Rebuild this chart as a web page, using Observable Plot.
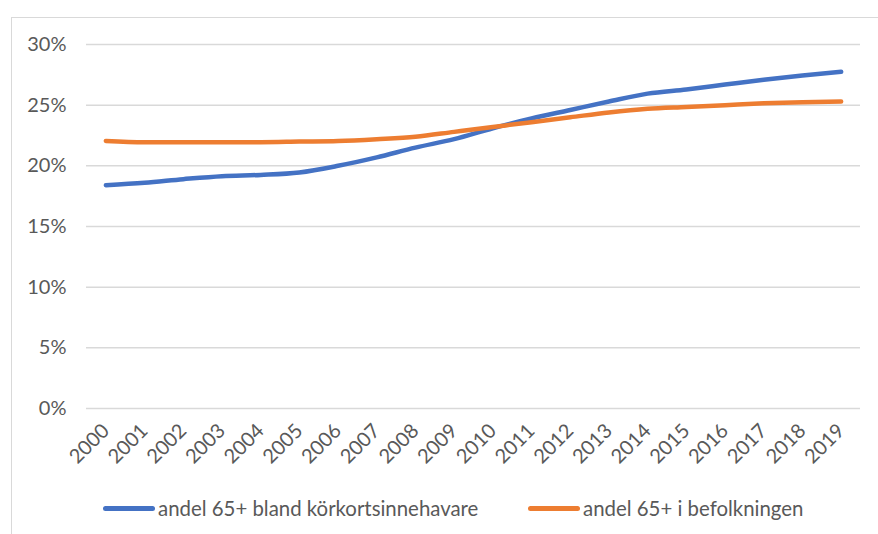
<!DOCTYPE html>
<html>
<head>
<meta charset="utf-8">
<script src="https://cdn.jsdelivr.net/npm/d3@7"></script>
<script src="https://cdn.jsdelivr.net/npm/@observablehq/plot@0.6"></script>
<style>
  html, body { margin: 0; padding: 0; background: #fff; }
  #wrap { position: relative; width: 878px; height: 534px; overflow: hidden; font-family: Lato, "Open Sans", sans-serif; }
  #frame { position: absolute; left: 11px; top: 17px; width: 1000px; height: 1000px; border: 1px solid #d9d9d9; box-sizing: border-box; }
  #chart { position: absolute; left: 0; top: 0; }
  #legend { position: absolute; left: 0; top: 492px; width: 878px; height: 32px; }
  .item { position: absolute; top: 0; height: 32px; display: flex; align-items: center; color: #595959; font-size: 20.4px; white-space: nowrap; }
  .sw { width: 52px; height: 5px; border-radius: 3px; margin-right: 3px; }
</style>
</head>
<body>
<div id="wrap">
  <div id="frame"></div>
  <div id="chart"></div>
  <div id="legend"></div>
</div>
<script>
const years = ["2000","2001","2002","2003","2004","2005","2006","2007","2008","2009","2010","2011","2012","2013","2014","2015","2016","2017","2018","2019"];
const seriesNames = ["andel 65+ bland körkortsinnehavare", "andel 65+ i befolkningen"];
const seriesColors = ["#4472C4", "#ED7D31"];
const korkort = [18.4, 18.6, 18.9, 19.15, 19.25, 19.45, 20.0, 20.7, 21.5, 22.2, 23.1, 23.9, 24.6, 25.3, 25.95, 26.3, 26.7, 27.1, 27.45, 27.75];
const befolkning = [22.05, 21.95, 21.95, 21.95, 21.95, 22.0, 22.05, 22.2, 22.4, 22.8, 23.2, 23.6, 24.0, 24.4, 24.7, 24.85, 25.0, 25.15, 25.25, 25.3];
const yTicks = [0, 5, 10, 15, 20, 25, 30];

const rows = [];
years.forEach((y, i) => {
  rows.push({year: y, value: korkort[i] / 100, series: seriesNames[0]});
  rows.push({year: y, value: befolkning[i] / 100, series: seriesNames[1]});
});

const chart = Plot.plot({
  width: 878,
  height: 492,
  marginLeft: 86,
  marginRight: 18,
  marginTop: 44,
  marginBottom: 84,
  style: {fontFamily: "Lato, 'Open Sans', sans-serif", fontSize: "20px", color: "#595959", background: "transparent"},
  x: {type: "point", domain: years, padding: 0.5, round: false, label: null, tickSize: 0, tickRotate: -45, tickPadding: 19},
  y: {domain: [0, 0.30], ticks: yTicks.map(d => d / 100), tickFormat: d3.format(".0%"), label: null, tickSize: 0, tickPadding: 20},
  color: {domain: seriesNames, range: seriesColors},
  marks: [
    Plot.ruleY(yTicks.map(d => d / 100), {stroke: "#d9d9d9", strokeWidth: 1.5}),
    Plot.line(rows, {x: "year", y: "value", stroke: "series", strokeWidth: 4.5, curve: "monotone-x", strokeLinecap: "round", strokeLinejoin: "round"})
  ]
});
chart.querySelectorAll("[aria-label='x-axis tick label'] text, [aria-label='y-axis tick label'] text").forEach(t => t.setAttribute("fill", "#595959"));
document.getElementById("chart").appendChild(chart);

const legend = document.getElementById("legend");
const legendLeft = [103, 528];
seriesNames.forEach((name, i) => {
  const item = document.createElement("div");
  item.className = "item";
  item.style.left = legendLeft[i] + "px";
  const sw = document.createElement("div");
  sw.className = "sw";
  sw.style.background = seriesColors[i];
  const label = document.createElement("span");
  label.textContent = name;
  item.appendChild(sw);
  item.appendChild(label);
  legend.appendChild(item);
});
</script>
</body>
</html>
